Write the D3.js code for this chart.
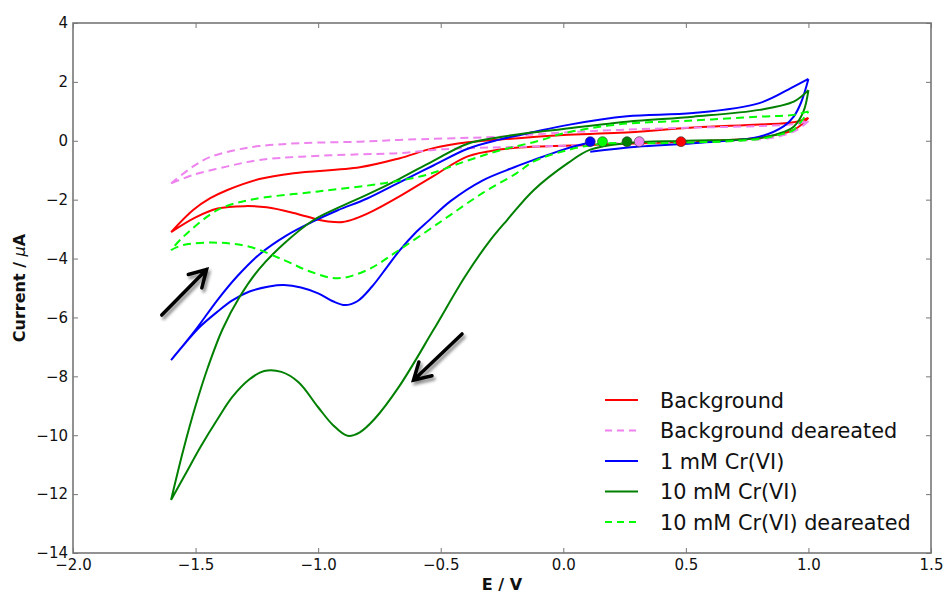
<!DOCTYPE html>
<html>
<head>
<meta charset="utf-8">
<script src="https://cdn.jsdelivr.net/npm/d3@7"></script>
<style>
  body { margin: 0; background: #fff; }
  text { font-family: "DejaVu Sans", sans-serif; fill: #111; }
</style>
</head>
<body>
<svg id="chart" width="946" height="594"></svg>
<script>
// axis ticks
const xTicks = [-2.0, -1.5, -1.0, -0.5, 0.0, 0.5, 1.0, 1.5];
const yTicks = [4, 2, 0, -2, -4, -6, -8, -10, -12, -14];

const seriesNames = ["Background", "Background deareated", "1 mM Cr(VI)", "10 mM Cr(VI)", "10 mM Cr(VI) deareated"];

// CV loops, [E (V), current (uA)] in scan order
const background = [
  [0.48, -0.04], [0.25, -0.1], [0.11, -0.14], [-0.12, -0.2], [-0.26, -0.3], [-0.39, -0.53],
  [-0.53, -1.2], [-0.67, -1.9], [-0.78, -2.4], [-0.85, -2.65], [-0.9, -2.76], [-0.96, -2.74],
  [-1.0, -2.68], [-1.1, -2.45], [-1.21, -2.26], [-1.3, -2.22], [-1.41, -2.3], [-1.5, -2.6],
  [-1.6, -3.1],
  [-1.51, -2.35], [-1.44, -1.95], [-1.37, -1.67], [-1.24, -1.3], [-1.1, -1.1], [-0.83, -0.9],
  [-0.67, -0.6], [-0.53, -0.25], [-0.39, -0.05], [-0.2, 0.08], [0.0, 0.2], [0.23, 0.27],
  [0.53, 0.45], [0.8, 0.55], [0.94, 0.63], [1.0, 0.78],
  [0.94, 0.37], [0.8, 0.1], [0.6, 0.0], [0.48, -0.04]
];
const backgroundDeaerated = [
  [0.31, -0.06], [0.0, -0.17], [-0.39, -0.25], [-0.53, -0.31], [-0.67, -0.42], [-0.83, -0.46],
  [-1.07, -0.54], [-1.24, -0.65], [-1.37, -0.87], [-1.51, -1.16], [-1.6, -1.45],
  [-1.51, -0.87], [-1.44, -0.55], [-1.34, -0.32], [-1.24, -0.18], [-1.07, -0.08], [-0.83, -0.03],
  [-0.67, 0.03], [-0.26, 0.14], [0.0, 0.28], [0.23, 0.37], [0.5, 0.44], [0.8, 0.5],
  [0.95, 0.57], [1.0, 0.67],
  [0.95, 0.35], [0.85, 0.1], [0.6, -0.02], [0.31, -0.06]
];
const cr1mM = [
  [0.11, -0.37], [0.3, -0.2], [0.53, -0.08], [0.8, 0.14], [0.9, 0.5], [0.94, 0.82], [0.97, 1.3],
  [1.0, 2.1],
  [0.94, 1.84], [0.8, 1.28], [0.53, 0.94], [0.26, 0.83], [0.02, 0.54], [-0.12, 0.3],
  [-0.26, 0.04], [-0.39, -0.27], [-0.53, -0.84], [-0.67, -1.42], [-0.8, -1.96], [-0.92, -2.36],
  [-1.02, -2.74], [-1.13, -3.22], [-1.24, -3.86], [-1.33, -4.6], [-1.41, -5.4], [-1.5, -6.42],
  [-1.6, -7.45],
  [-1.54, -6.85], [-1.48, -6.3], [-1.41, -5.8], [-1.35, -5.42], [-1.28, -5.12], [-1.2, -4.95],
  [-1.14, -4.9], [-1.07, -4.98], [-1.0, -5.18], [-0.94, -5.45], [-0.89, -5.58], [-0.84, -5.45],
  [-0.78, -4.95], [-0.72, -4.3], [-0.67, -3.75], [-0.6, -3.1], [-0.55, -2.72], [-0.46, -2.05],
  [-0.33, -1.35], [-0.2, -0.9], [-0.12, -0.65], [0.0, -0.3], [0.11, -0.05]
];
const cr10mM = [
  [0.26, -0.08], [0.5, 0.0], [0.8, 0.09], [0.9, 0.3], [0.94, 0.48], [0.98, 1.0], [1.0, 1.72],
  [0.94, 1.33], [0.8, 1.05], [0.53, 0.82], [0.26, 0.65], [0.0, 0.4], [-0.13, 0.28],
  [-0.26, 0.12], [-0.39, -0.1], [-0.53, -0.68], [-0.67, -1.3], [-0.8, -1.83], [-0.92, -2.28],
  [-1.02, -2.7], [-1.14, -3.5], [-1.24, -4.35], [-1.32, -5.3], [-1.39, -6.4], [-1.45, -7.7],
  [-1.5, -9.0], [-1.55, -10.5], [-1.6, -12.2],
  [-1.54, -11.3], [-1.48, -10.4], [-1.41, -9.45], [-1.35, -8.7], [-1.28, -8.1], [-1.22, -7.82],
  [-1.15, -7.85], [-1.08, -8.2], [-1.0, -9.05], [-0.94, -9.65], [-0.88, -10.02], [-0.83, -9.9],
  [-0.77, -9.45], [-0.67, -8.35], [-0.53, -6.43], [-0.4, -4.6], [-0.3, -3.4], [-0.23, -2.7],
  [-0.12, -1.67], [0.02, -0.75], [0.11, -0.3], [0.26, -0.08]
];
const cr10mMDeaerated = [
  [0.16, -0.1], [0.4, -0.08], [0.8, 0.06], [0.9, 0.25], [0.94, 0.37], [1.0, 1.0],
  [0.94, 0.88], [0.8, 0.82], [0.53, 0.69], [0.23, 0.56], [0.0, 0.25], [-0.1, 0.0],
  [-0.26, -0.33], [-0.4, -0.7], [-0.56, -1.16], [-0.73, -1.44], [-1.0, -1.72], [-1.28, -2.01],
  [-1.41, -2.35], [-1.55, -3.26], [-1.6, -3.71],
  [-1.55, -3.54], [-1.41, -3.46], [-1.28, -3.6], [-1.14, -4.05], [-1.03, -4.45], [-0.92, -4.67],
  [-0.8, -4.39], [-0.67, -3.71], [-0.49, -2.69], [-0.33, -1.78], [-0.19, -1.1], [-0.12, -0.7],
  [0.02, -0.31], [0.16, -0.1]
];

// scan start points
const markerE = [0.48, 0.31, 0.11, 0.26, 0.16];
const markerI = [-0.03, -0.03, -0.03, -0.03, -0.03];

// scan direction arrows: [tailE, tailI, tipE, tipI]
const arrows = [
  [-1.638, -5.92, -1.455, -4.37],
  [-0.413, -6.56, -0.611, -8.13]
];

const seriesData = [background, backgroundDeaerated, cr1mM, cr10mM, cr10mMDeaerated];
const styles = [
  {color: "#ff0000", dash: null},
  {color: "#ee82ee", dash: "8,5"},
  {color: "#0000ff", dash: null},
  {color: "#008000", dash: null},
  {color: "#00ff00", dash: "8,5"}
];

const svgSize = {width: 946, height: 594};
const margin = {top: 23, right: 15, bottom: 41, left: 73};
const width = svgSize.width - margin.left - margin.right;
const height = svgSize.height - margin.top - margin.bottom;

const svg = d3.select("#chart");
svg.append("rect").attr("width", svgSize.width).attr("height", svgSize.height).attr("fill", "#fff");

const defs = svg.append("defs");
defs.append("filter").attr("id", "shadow")
    .attr("x", "-50%").attr("y", "-50%").attr("width", "200%").attr("height", "200%")
  .append("feDropShadow")
    .attr("dx", 2).attr("dy", 3).attr("stdDeviation", 1.8)
    .attr("flood-color", "#000").attr("flood-opacity", 0.45);

const g = svg.append("g").attr("transform", `translate(${margin.left},${margin.top})`);

const x = d3.scaleLinear().domain([-2, 1.5]).range([0, width]);
const y = d3.scaleLinear().domain([-14, 4]).range([height, 0]);

const fmtX = d => d3.format(".1f")(d).replace("-", "\u2212");
const fmtY = d => String(d).replace("-", "\u2212");

// axes, ticks pointing inward on all four sides
const axisColor = "#777";
function styleAxis(sel) {
  sel.select(".domain").remove();
  sel.selectAll(".tick line").attr("stroke", axisColor).attr("stroke-width", 1);
  sel.selectAll(".tick text").attr("font-size", 15).attr("fill", "#111")
     .style("font-family", "DejaVu Sans, sans-serif");
}
g.append("g").attr("transform", `translate(0,${height})`)
  .call(d3.axisBottom(x).tickValues(xTicks).tickFormat(fmtX).tickSizeInner(-5).tickSizeOuter(0).tickPadding(6))
  .call(styleAxis);
g.append("g")
  .call(d3.axisLeft(y).tickValues(yTicks).tickFormat(fmtY).tickSizeInner(-5).tickSizeOuter(0).tickPadding(5))
  .call(styleAxis);
g.append("g")
  .call(d3.axisTop(x).tickValues(xTicks).tickFormat("").tickSizeInner(-5).tickSizeOuter(0))
  .call(styleAxis);
g.append("g").attr("transform", `translate(${width},0)`)
  .call(d3.axisRight(y).tickValues(yTicks).tickFormat("").tickSizeInner(-5).tickSizeOuter(0))
  .call(styleAxis);

// split a loop where the sweep direction reverses, so turning points stay sharp
function branches(pts) {
  const segs = [];
  let cur = [pts[0]], dir = 0;
  for (let i = 1; i < pts.length; i++) {
    const d = Math.sign(pts[i][0] - pts[i - 1][0]);
    if (dir && d && d !== dir) { segs.push(cur); cur = [pts[i - 1]]; }
    if (d) dir = d;
    cur.push(pts[i]);
  }
  segs.push(cur);
  const a = segs[0], b = segs[segs.length - 1];
  if (segs.length > 1 && a[0][0] === b[b.length - 1][0] && a[0][1] === b[b.length - 1][1]) {
    segs[0] = b.concat(a.slice(1));
    segs.pop();
  }
  return segs;
}

const line = d3.line()
  .x(d => x(d[0]))
  .y(d => y(d[1]))
  .curve(d3.curveCatmullRom.alpha(0.5));

seriesData.forEach((pts, i) => {
  g.append("path")
    .attr("d", branches(pts).map(s => line(s)).join(""))
    .attr("fill", "none")
    .attr("stroke", styles[i].color)
    .attr("stroke-width", 2)
    .attr("stroke-dasharray", styles[i].dash)
    .attr("stroke-linejoin", "round");
});

// start markers
g.selectAll(".marker").data(markerE).enter().append("circle")
  .attr("class", "marker")
  .attr("cx", d => x(d))
  .attr("cy", (d, i) => y(markerI[i]))
  .attr("r", 5)
  .attr("fill", (d, i) => styles[i].color)
  .attr("stroke", "#333")
  .attr("stroke-width", 0.6);

// arrows
arrows.forEach(a => {
  const x0 = x(a[0]), y0 = y(a[1]), x1 = x(a[2]), y1 = y(a[3]);
  const ang = Math.atan2(y0 - y1, x0 - x1);
  const len = 19, spread = Math.PI / 6;
  const b1 = [x1 + len * Math.cos(ang + spread), y1 + len * Math.sin(ang + spread)];
  const b2 = [x1 + len * Math.cos(ang - spread), y1 + len * Math.sin(ang - spread)];
  g.append("path")
    .attr("d", `M${x0},${y0}L${x1},${y1}M${b1[0]},${b1[1]}L${x1},${y1}L${b2[0]},${b2[1]}`)
    .attr("fill", "none")
    .attr("stroke", "#000")
    .attr("stroke-width", 3.5)
    .attr("stroke-linecap", "round")
    .attr("stroke-linejoin", "miter")
    .attr("filter", "url(#shadow)");
});

// frame
g.append("rect")
  .attr("width", width).attr("height", height)
  .attr("fill", "none").attr("stroke", axisColor).attr("stroke-width", 1.6);

// axis labels
svg.append("text")
  .attr("x", margin.left + width / 2).attr("y", 590)
  .attr("text-anchor", "middle").attr("font-size", 16).attr("font-weight", "bold")
  .text("E / V");
const yl = svg.append("text")
  .attr("transform", `translate(25,${margin.top + height / 2}) rotate(-90)`)
  .attr("text-anchor", "middle").attr("font-size", 16).attr("font-weight", "bold");
yl.append("tspan").text("Current / ");
yl.append("tspan").attr("font-style", "italic").attr("font-weight", "normal").text("\u03bc");
yl.append("tspan").text("A");

// legend
const legend = svg.append("g").attr("transform", "translate(605,400)");
seriesNames.forEach((name, i) => {
  const row = legend.append("g").attr("transform", `translate(0,${i * 30.5})`);
  row.append("line")
    .attr("x1", 0).attr("x2", 33).attr("y1", 0).attr("y2", 0)
    .attr("stroke", styles[i].color).attr("stroke-width", 2)
    .attr("stroke-dasharray", styles[i].dash ? "7,5" : null);
  row.append("text")
    .attr("x", 55).attr("y", 7.5)
    .attr("font-size", 20.8)
    .text(name);
});
</script>
</body>
</html>
